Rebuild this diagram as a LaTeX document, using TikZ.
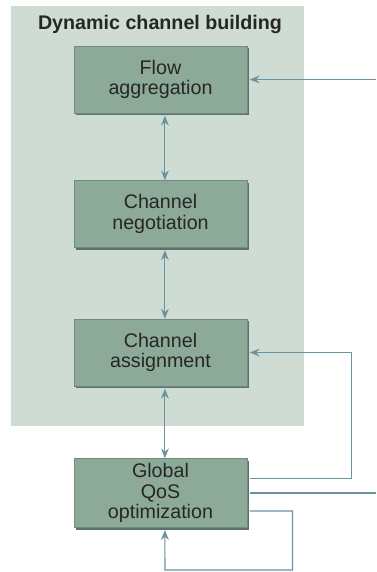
\documentclass[tikz,border=0pt]{standalone}
\usepackage{fontspec}
\setmainfont{Liberation Sans}
\usetikzlibrary{arrows.meta, positioning, shadows}
\definecolor{panelgreen}{HTML}{CEDCD3}
\definecolor{boxgreen}{HTML}{8DAA98}
\definecolor{boxedge}{HTML}{6E8C83}
\definecolor{linkblue}{HTML}{6A929F}
\definecolor{shadowgrey}{HTML}{5C7070}

\begin{document}
\begin{tikzpicture}[x=0.025cm, y=-0.025cm,
    stage/.style={draw=boxedge, fill=boxgreen, minimum width=4.325cm, minimum height=1.675cm,
        align=center, text=black!85, font=\fontsize{14}{14.6}\selectfont,
        drop shadow={shadow xshift=0.06cm, shadow yshift=-0.06cm, fill=shadowgrey, opacity=1}},
    link/.style={draw=linkblue, line width=0.75pt},
    tip/.style={-{Stealth[length=7pt,width=5.5pt]}},
    twotip/.style={{Stealth[length=7pt,width=5.5pt]}-{Stealth[length=7pt,width=5.5pt]}}]
    \useasboundingbox (0,0) rectangle (376,572);
    \fill[panelgreen] (11,6) rectangle (304,426);

    \node[font=\fontsize{14}{14.6}\selectfont\bfseries, text=black!85] (title) at (160,24) {Dynamic channel building};
    \node[stage] (flow) at (160.5,79.5) {Flow\\aggregation};
    \node[stage] (nego) at (160.5,214) {Channel\\negotiation};
    \node[stage] (assign) at (160.5,352.5) {Channel\\assignment};
    \node[stage] (qos) at (160.5,493) {Global\\QoS\\optimization};

    \coordinate (inflow) at (376,79.5);
    \coordinate (outqos) at (376,493);
    \coordinate (loopbot) at (165,570);

    \draw[link, twotip] ([xshift=0.11cm, yshift=-0.06cm]flow.south) -- ([xshift=0.11cm]nego.north);
    \draw[link, twotip] ([xshift=0.11cm, yshift=-0.06cm]nego.south) -- ([xshift=0.11cm]assign.north);
    \draw[link, twotip] ([xshift=0.11cm, yshift=-0.06cm]assign.south) -- ([xshift=0.11cm]qos.north);

    \draw[link, tip] (inflow) -- ([xshift=0.06cm]flow.east);
    \draw[link, tip] ([xshift=0.06cm, yshift=0.37cm]qos.east) -| ([xshift=2.6cm]assign.east) -- ([xshift=0.06cm]assign.east);
    \draw[link] ([xshift=0.06cm]qos.east) -- (outqos);
    \draw[link, tip] ([xshift=0.06cm, yshift=-0.45cm]qos.east) -- ++(1.07cm,0) |- (loopbot) -- ([xshift=0.11cm, yshift=-0.06cm]qos.south);
\end{tikzpicture}
\end{document}
